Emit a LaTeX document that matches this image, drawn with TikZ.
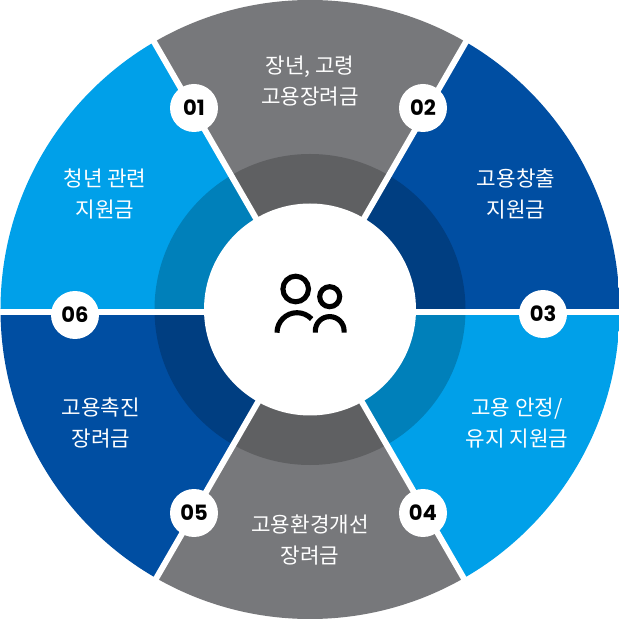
\documentclass[tikz,border=0pt]{standalone}
\usepackage{fontspec}
\newfontfamily\kofont{Noto Sans CJK KR}
\newfontfamily\numfont{Poppins}
\definecolor{sectorgray}{HTML}{77787B}
\definecolor{sectornavy}{HTML}{004EA2}
\definecolor{sectorsky}{HTML}{00A0E9}
\tikzset{
  spoke/.style={white, line width=3.4pt},
  badge/.style={circle, fill=white, inner sep=0pt, minimum size=0.96cm, font=\numfont\bfseries\fontsize{12}{14}\selectfont},
  caption/.style={white, align=center, font=\kofont\fontsize{12.1}{18.1}\selectfont},
  person/.style={black, line width=2.9pt, line cap=butt}
}
\begin{document}
\begin{tikzpicture}[scale=0.02]
    \useasboundingbox (-310,-309.5) rectangle (309,309.5);

    \begin{scope}
        \clip (0,0) circle (309.5);
        \begin{scope}[shift={(0,-2.5)}]
            \fill[sectorgray] (0,0) -- (120:500) -- (60:500) -- cycle;
            \fill[sectornavy] (0,0) -- (60:500) -- (0:500) -- cycle;
            \fill[sectorsky] (0,0) -- (0:500) -- (-60:500) -- cycle;
            \fill[sectorgray] (0,0) -- (-60:500) -- (-120:500) -- cycle;
            \fill[sectornavy] (0,0) -- (-120:500) -- (180:500) -- cycle;
            \fill[sectorsky] (0,0) -- (180:500) -- (120:500) -- cycle;
        \end{scope}
    \end{scope}

    \fill[black, opacity=0.2] (0,0) circle (155.5); % darker inner ring

    \begin{scope}[shift={(0,-2.5)}]
        \coordinate (rayA) at (120:345);
        \coordinate (rayB) at (60:345);
        \coordinate (rayC) at (0:345);
        \coordinate (rayD) at (-60:345);
        \coordinate (rayE) at (-120:345);
        \coordinate (rayF) at (180:345);
        \coordinate (middle) at (0,0);
    \end{scope}
    \draw[spoke] (middle) -- (rayA);
    \draw[spoke] (middle) -- (rayB);
    \draw[spoke] (middle) -- (rayC);
    \draw[spoke] (middle) -- (rayD);
    \draw[spoke] (middle) -- (rayE);
    \draw[spoke] (middle) -- (rayF);

    \fill[white] (0,0) circle (106);

    % icon
    \draw[person] (-14.3,20.5) circle (12.8);
    \draw[person] (19.7,12.8) circle (10);
    \draw[person] (-33,-23.2) arc (180:43:20);
    \draw[person] (5.3,-23.2) -- (5.3,-21.5) arc (180:0:14.4) -- (34.1,-23.2);

    \node[badge] (one) at (-116,201.5) {01};
    \node[badge] (two) at (113,201.5) {02};
    \node[badge] (three) at (233,-4.5) {03};
    \node[badge] (four) at (113,-203.5) {04};
    \node[badge] (five) at (-116,-203.5) {05};
    \node[badge] (six) at (-235,-5.5) {06};

    \node[caption] (youth) at (-205,115.5) {청년 관련\\지원금};
    \node[caption] (senior) at (0,228.5) {장년, 고령\\고용장려금};
    \node[caption] (create) at (206,115.5) {고용창출\\지원금};
    \node[caption] (stable) at (207,-113.5) {고용 안정/\\유지 지원금};
    \node[caption] (envir) at (0,-230.5) {고용환경개선\\장려금};
    \node[caption] (promote) at (-209,-113.5) {고용촉진\\장려금};
\end{tikzpicture}
\end{document}
